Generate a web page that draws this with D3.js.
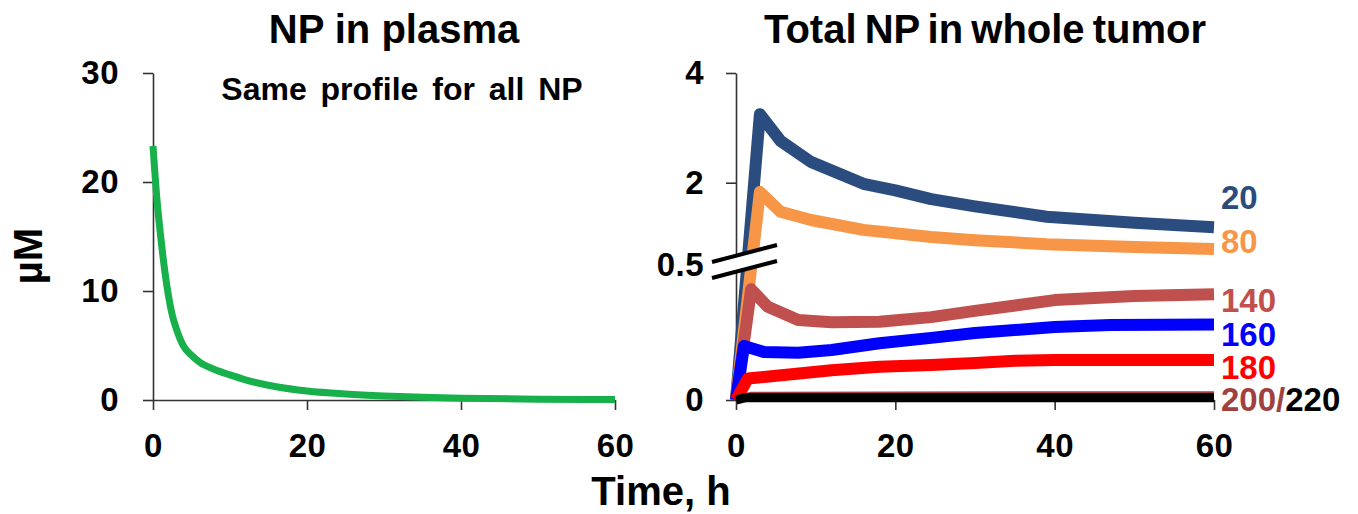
<!DOCTYPE html>
<html>
<head>
<meta charset="utf-8">
<script src="https://cdn.jsdelivr.net/npm/d3@7"></script>
<style>
  body { margin: 0; background: #fff; }
  svg { font-family: "Liberation Sans", Arial, sans-serif; font-weight: bold; }
  .tick text { font-size: 33px; font-weight: bold; fill: #000; letter-spacing: 0.5px; }
  .domain, .tick line { stroke: #333; stroke-width: 1.6; }
</style>
</head>
<body>
<div id="plot"></div>
<script>
// Plasma curve (left panel): time in h, concentration in uM
const plasmaTime  = [0, 0.5, 1, 1.5, 2, 2.5, 3, 4, 5, 6, 8, 10, 12, 16, 20, 25, 30, 35, 40, 50, 60];
const plasmaValue = [23.3, 18.5, 15.0, 12.0, 9.6, 7.8, 6.6, 4.9, 4.1, 3.5, 2.8, 2.3, 1.85, 1.22, 0.83, 0.55, 0.37, 0.25, 0.17, 0.08, 0.04];

// Tumor curves (right panel), [time, uM] per NP size
const np20  = [[0,0],[3,3.25],[5.6,2.76],[9.4,2.38],[16,1.98],[20,1.86],[24.5,1.70],[30,1.57],[39,1.38],[50,1.27],[60,1.19]];
const np80  = [[0,0],[3,1.83],[5.6,1.47],[9.4,1.32],[16,1.14],[24.5,1.01],[30,0.95],[39,0.88],[50,0.83],[60,0.79]];
const np140 = [[0,0],[1.9,0.41],[4,0.345],[7.8,0.296],[12,0.288],[18,0.29],[24.5,0.307],[30,0.33],[40,0.37],[50,0.385],[60,0.392]];
const np160 = [[0,0],[1,0.2],[3.5,0.178],[7.8,0.175],[12,0.185],[18,0.21],[24.5,0.23],[30,0.248],[40,0.27],[47,0.278],[60,0.28]];
const np180 = [[0,0],[1.5,0.08],[3.5,0.085],[12,0.11],[18,0.123],[24.5,0.13],[30,0.137],[35,0.145],[40,0.148],[60,0.148]];
const np200 = [[0,0],[2,0.014],[20,0.015],[40,0.016],[60,0.016]];
const np220 = [[0,0],[1,0.008],[60,0.008]];

const sizes  = ["20", "80", "140", "160", "180", "200", "220"];
const colors = ["#2B4C7E", "#F79646", "#C0504D", "#0000FF", "#FF0000", "#A0413F", "#000000"];
const series = [np20, np80, np140, np160, np180, np200, np220];

const xTicks = [0, 20, 40, 60];
const yTicksLeft = [0, 10, 20, 30];
const yTicksRight = [0, 0.5, 2, 4];

const W = 1358, H = 514;
const svg = d3.select("#plot").append("svg")
  .attr("width", W).attr("height", H);

// Scales
const xL = d3.scaleLinear().domain([0, 60]).range([153, 615]);
const yL = d3.scaleLinear().domain([0, 30]).range([400, 73]);
const xR = d3.scaleLinear().domain([0, 60]).range([736, 1214]);
// broken axis: lower part 0-0.5 is stretched
const yR = d3.scaleLinear().domain([0, 0.5, 4]).range([400, 265, 73]);

// Left panel axes
svg.append("g")
  .attr("transform", `translate(0,${yL(0)})`)
  .call(d3.axisBottom(xL).tickValues(xTicks).tickSize(10).tickSizeOuter(0).tickPadding(24));
svg.append("g")
  .attr("transform", `translate(${xL(0)},0)`)
  .call(d3.axisLeft(yL).tickValues(yTicksLeft).tickSize(10).tickSizeOuter(0).tickPadding(24));

// Plasma line
const plasmaLine = d3.line()
  .x((d, i) => xL(plasmaTime[i]))
  .y(d => yL(d))
  .curve(d3.curveMonotoneX);
svg.append("path")
  .datum(plasmaValue)
  .attr("fill", "none")
  .attr("stroke", "#17B04B")
  .attr("stroke-width", 7)
  .attr("d", plasmaLine);

// Right panel axes
svg.append("g")
  .attr("transform", `translate(0,${yR(0)})`)
  .call(d3.axisBottom(xR).tickValues(xTicks).tickSize(10).tickSizeOuter(0).tickPadding(24));
const yAxisR = svg.append("g")
  .attr("transform", `translate(${xR(0)},0)`)
  .call(d3.axisLeft(yR).tickValues(yTicksRight).tickSize(10).tickSizeOuter(0).tickPadding(22)
    .tickFormat(d => d === 0.5 ? "0.5" : d));
yAxisR.selectAll(".tick").filter(d => d === 0.5).select("line").remove();

// Tumor lines
const tumorLine = d3.line()
  .x(d => xR(d[0]))
  .y(d => yR(d[1]));
series.forEach((s, i) => {
  svg.append("path")
    .datum(s)
    .attr("fill", "none")
    .attr("stroke", colors[i])
    .attr("stroke-width", i >= 5 ? 9 : 12)
    .attr("stroke-linejoin", "round")
    .attr("d", tumorLine);
});

// Axis break marks at 0.5
const yb = yR(0.5);
const bx0 = xR(0) - 24, bx1 = xR(0) + 41;
svg.append("polygon")
  .attr("points", `${bx0},${yb - 3} ${bx1},${yb - 20} ${bx1},${yb - 4} ${bx0},${yb + 13}`)
  .attr("fill", "#fff");
[[yb - 3, yb - 20], [yb + 13, yb - 4]].forEach(p => {
  svg.append("line")
    .attr("x1", bx0).attr("y1", p[0])
    .attr("x2", bx1).attr("y2", p[1])
    .attr("stroke", "#000").attr("stroke-width", 4);
});

// Series labels at the right end
const labelY = [197, 241, 300, 334, 367];
for (let i = 0; i < 5; i++) {
  svg.append("text")
    .attr("x", 1221).attr("y", labelY[i])
    .attr("dy", "0.35em")
    .attr("font-size", 33)
    .attr("fill", colors[i])
    .text(sizes[i]);
}
const last = svg.append("text")
  .attr("x", 1221).attr("y", 399)
  .attr("dy", "0.35em")
  .attr("font-size", 33);
last.append("tspan").attr("fill", colors[5]).text(sizes[5] + "/");
last.append("tspan").attr("fill", colors[6]).text(sizes[6]);

// Titles
svg.append("text")
  .attr("x", 394).attr("y", 43)
  .attr("text-anchor", "middle")
  .attr("font-size", 40)
  .text("NP in plasma");
svg.append("text")
  .attr("x", 402).attr("y", 100)
  .attr("text-anchor", "middle")
  .attr("font-size", 32)
  .attr("word-spacing", 5)
  .text("Same profile for all NP");
svg.append("text")
  .attr("x", 985).attr("y", 43)
  .attr("text-anchor", "middle")
  .attr("font-size", 40)
  .attr("word-spacing", -3)
  .text("Total NP in whole tumor");

// Axis titles
svg.append("text")
  .attr("x", 661).attr("y", 505)
  .attr("text-anchor", "middle")
  .attr("font-size", 40)
  .text("Time, h");
svg.append("text")
  .attr("transform", "translate(42,256) rotate(-90)")
  .attr("text-anchor", "middle")
  .attr("font-size", 40)
  .text("µM");
</script>
</body>
</html>
